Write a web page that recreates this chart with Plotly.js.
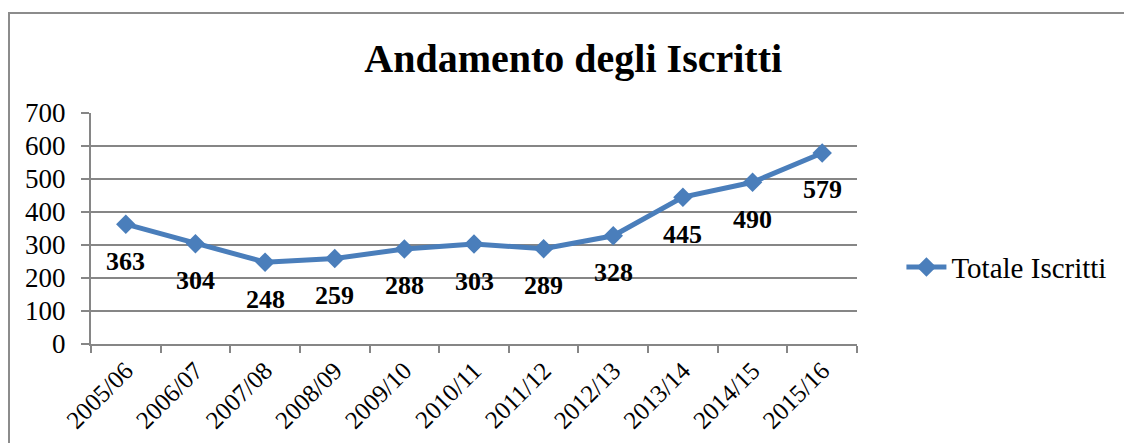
<!DOCTYPE html>
<html>
<head>
<meta charset="utf-8">
<script src="https://cdn.plot.ly/plotly-3.0.1.min.js"></script>
<style>
html,body{margin:0;padding:0;background:#fff;overflow:hidden;}
#wrap{position:relative;width:1124px;height:443px;}
#chart{width:1124px;height:443px;}
#frame{position:absolute;left:8px;top:12px;width:1200px;height:500px;border-left:2px solid #8c8c8c;border-top:2px solid #8c8c8c;pointer-events:none;}
</style>
</head>
<body>
<div id="wrap"><div id="chart"></div><div id="frame"></div></div>
<script>
const categories = ["2005/06","2006/07","2007/08","2008/09","2009/10","2010/11","2011/12","2012/13","2013/14","2014/15","2015/16"];
const totaleIscritti = [363,304,248,259,288,303,289,328,445,490,579];
const yTicks = [0,100,200,300,400,500,600,700];

const FONT = "Liberation Serif, Times New Roman, serif";
const BLUE = "#4A7EBB";
const GRAY = "#868686";

const trace = {
  type: "scatter",
  mode: "lines+markers",
  x: categories,
  y: totaleIscritti,
  name: "Totale Iscritti",
  line: {color: BLUE, width: 5},
  marker: {symbol: "diamond", size: 15, color: BLUE},
  hoverinfo: "x+y"
};

const annotations = categories.map((c, i) => ({
  x: c, y: totaleIscritti[i], xref: "x", yref: "y",
  text: "<b>" + totaleIscritti[i] + "</b>",
  showarrow: false, yshift: -37,
  font: {family: FONT, size: 26, color: "#000"}
}));

const layout = {
  width: 1124, height: 443,
  margin: {l: 91, r: 267, t: 113, b: 99},
  paper_bgcolor: "#fff", plot_bgcolor: "#fff",
  title: {text: "<b>Andamento degli Iscritti</b>", x: 0.51, xanchor: "center", y: 0.87, yanchor: "middle",
          font: {family: FONT, size: 40, color: "#000"}},
  xaxis: {
    type: "category", tickson: "boundaries", range: [-0.5, 10.5],
    showline: true, linecolor: GRAY, linewidth: 2,
    ticks: "outside", ticklen: 7, tickcolor: GRAY, tickwidth: 2,
    tickangle: -45, showgrid: false, zeroline: false,
    tickfont: {family: FONT, size: 25, color: "#000"}
  },
  yaxis: {
    range: [0, 700], tickvals: yTicks, ticktext: yTicks.map(String),
    showline: true, linecolor: GRAY, linewidth: 2,
    ticks: "outside", ticklen: 8, tickcolor: GRAY, tickwidth: 2,
    showgrid: true, gridcolor: GRAY, gridwidth: 2, zeroline: false,
    tickfont: {family: FONT, size: 27, color: "#000"}, ticklabelstandoff: 10
  },
  showlegend: true,
  legend: {x: 1.058, xanchor: "left", y: 0.333, yanchor: "middle",
           font: {family: FONT, size: 29, color: "#000"}, bgcolor: "rgba(0,0,0,0)", itemwidth: 40},
  annotations: annotations
};

Plotly.newPlot("chart", [trace], layout, {displayModeBar: false, staticPlot: true});
</script>
</body>
</html>
